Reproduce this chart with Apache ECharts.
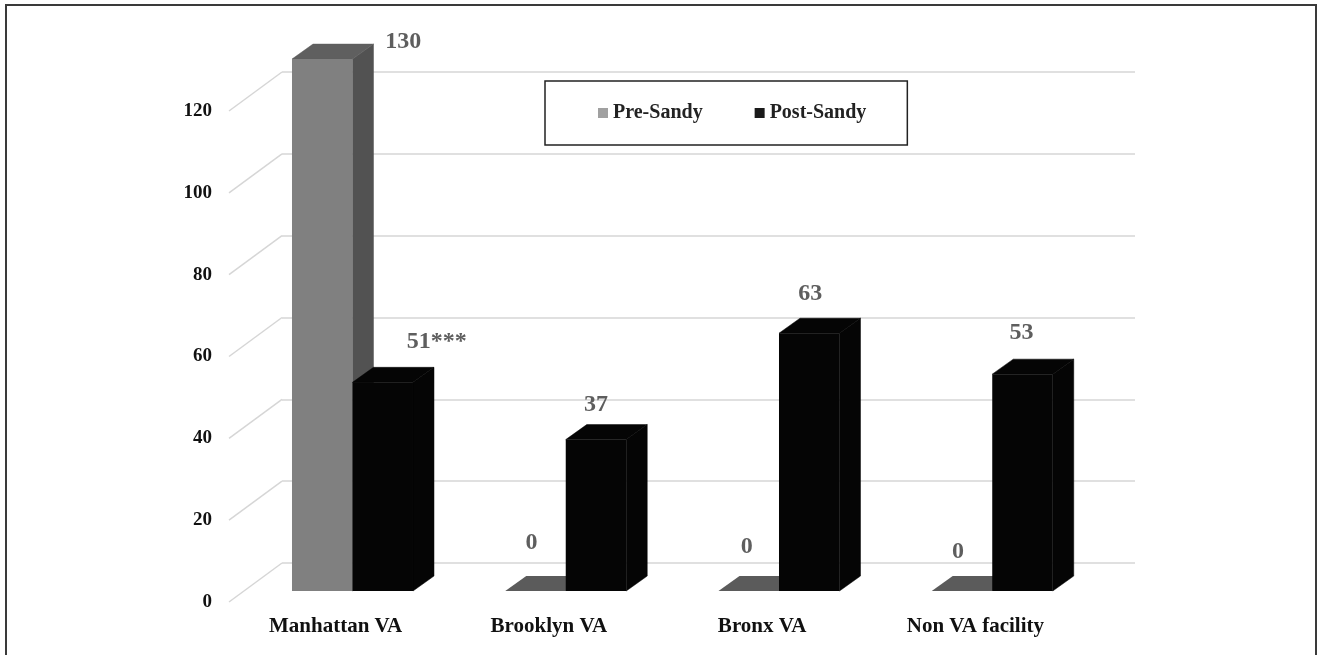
<!DOCTYPE html>
<html>
<head>
<meta charset="utf-8">
<script src="https://cdn.jsdelivr.net/npm/echarts@6/dist/echarts.min.js"></script>
<style>
  html, body { margin: 0; padding: 0; background: #fff; }
  #chart { width: 1320px; height: 655px; }
</style>
</head>
<body>
<div id="chart"></div>
<script>
// ---- data ----
const categories = ['Manhattan VA', 'Brooklyn VA', 'Bronx VA', 'Non VA facility'];
const preSandy = [130, 0, 0, 0];
const postSandy = [51, 37, 63, 53];
const significance = ['***', '', '', ''];
const yTicks = [0, 20, 40, 60, 80, 100, 120];
const seriesNames = ['Pre-Sandy', 'Post-Sandy'];

// ---- style ----
const FONT = '"Liberation Serif", "Times New Roman", serif';
const FRONT_DX = 0, FRONT_DY = -11;     // bar front plane relative to floor front edge
const DEPTH_DX = 21, DEPTH_DY = -15;    // bar depth
const WALL_DX = 53, WALL_DY = -39;      // floor depth (front edge to back wall)
const BAR_W = 0.2837;                   // bar width, fraction of band
const BAR_START = { pre: 0.2954, post: 0.5791 };
const COLORS = {
  pre: { front: '#808080', top: '#5f5f5f', side: '#525252', flat: '#5b5b5b' },
  post: { front: '#050505', top: '#050505', side: '#050505', flat: '#050505' }
};
const LABEL_OFFSETS = {
  pre: [[81, -17], [-4, -48], [-2, -44], [-4, -39]],
  post: [[54, -41], [0, -35], [1, -39], [-1, -41]]
};

function barRenderer(kind) {
  return function (params, api) {
    const i = api.value(0), v = api.value(1);
    const base = api.coord([i, 0]);
    const top = api.coord([i, v]);
    const band = api.size([1, 0])[0];
    const catLeft = base[0] - band / 2;
    const x0 = catLeft + band * BAR_START[kind] + FRONT_DX;
    const w = band * BAR_W;
    const yb = base[1] + FRONT_DY;
    const yt = top[1] + FRONT_DY;
    const c = COLORS[kind];
    const children = [];
    if (v > 0) {
      children.push({ type: 'polygon', shape: { points: [[x0 + w, yt], [x0 + w + DEPTH_DX, yt + DEPTH_DY], [x0 + w + DEPTH_DX, yb + DEPTH_DY], [x0 + w, yb]] }, style: { fill: c.side, stroke: c.side, lineWidth: 0.5 } });
      children.push({ type: 'polygon', shape: { points: [[x0, yt], [x0 + w, yt], [x0 + w + DEPTH_DX, yt + DEPTH_DY], [x0 + DEPTH_DX, yt + DEPTH_DY]] }, style: { fill: c.top, stroke: c.top, lineWidth: 0.5 } });
      children.push({ type: 'rect', shape: { x: x0, y: yt, width: w, height: yb - yt }, style: { fill: c.front } });
    } else {
      children.push({ type: 'polygon', shape: { points: [[x0, yb], [x0 + w, yb], [x0 + w + DEPTH_DX, yb + DEPTH_DY], [x0 + DEPTH_DX, yb + DEPTH_DY]] }, style: { fill: c.flat } });
    }
    const off = LABEL_OFFSETS[kind][i];
    const txt = String(v) + (kind === 'post' ? significance[i] : '');
    children.push({
      type: 'text',
      style: {
        text: txt, x: x0 + w / 2 + off[0], y: yt + off[1],
        align: 'center', verticalAlign: 'middle',
        font: 'bold 24px ' + FONT, fill: '#5e5e5e'
      }
    });
    return { type: 'group', children: children };
  };
}

function wallRenderer(params, api) {
  const v = api.value(1);
  const p = api.coord([0, v]);
  const band = api.size([1, 0])[0];
  const left = p[0] - band / 2;
  return {
    type: 'line',
    shape: { x1: left, y1: p[1], x2: left + WALL_DX, y2: p[1] + WALL_DY },
    style: { stroke: '#d6d6d6', lineWidth: 1.5 }
  };
}

const chart = echarts.init(document.getElementById('chart'));
chart.setOption({
  animation: false,
  backgroundColor: '#fff',
  graphic: [{
    type: 'rect', z: 100,
    shape: { x: 6, y: 5, width: 1310, height: 720 },
    style: { fill: 'none', stroke: '#3a3a3a', lineWidth: 2 }
  }],
  legend: {
    data: [
      { name: seriesNames[0], itemStyle: { color: '#a0a0a0' } },
      { name: seriesNames[1], itemStyle: { color: '#1a1a1a' } }
    ],
    left: 545, top: 81,
    padding: [22, 41, 22, 53],
    borderColor: '#222', borderWidth: 1.5,
    itemWidth: 10, itemHeight: 10, itemGap: 52,
    icon: 'rect', selectedMode: false,
    textStyle: { fontFamily: FONT, fontWeight: 'bold', fontSize: 20, color: '#222', lineHeight: 20 }
  },
  grid: [
    { left: 229, top: 111, width: 853, height: 491 },  // floor front plane
    { left: 282, top: 72, width: 853, height: 491 }    // back wall
  ],
  xAxis: [
    {
      gridIndex: 0, type: 'category', data: categories,
      axisLine: { show: false }, axisTick: { show: false },
      axisLabel: { margin: 14, fontFamily: FONT, fontWeight: 'bold', fontSize: 21, color: '#111' }
    },
    { gridIndex: 1, type: 'category', data: categories, show: false }
  ],
  yAxis: [
    {
      gridIndex: 0, type: 'value', min: 0, max: 120, interval: 20,
      axisLine: { show: false }, axisTick: { show: false }, splitLine: { show: false },
      axisLabel: { margin: 17, fontFamily: FONT, fontWeight: 'bold', fontSize: 19, color: '#111' }
    },
    {
      gridIndex: 1, type: 'value', min: 0, max: 120, interval: 20,
      axisLine: { show: false }, axisTick: { show: false }, axisLabel: { show: false },
      splitLine: { show: true, lineStyle: { color: '#d6d6d6', width: 1.5 } }
    }
  ],
  series: [
    {
      type: 'custom', name: 'wall', xAxisIndex: 0, yAxisIndex: 0,
      renderItem: wallRenderer, data: yTicks.map(t => [0, t]), silent: true, z: 1
    },
    {
      type: 'custom', name: seriesNames[0], xAxisIndex: 0, yAxisIndex: 0,
      itemStyle: { color: '#a0a0a0' }, clip: false, z: 2,
      renderItem: barRenderer('pre'), data: preSandy.map((v, i) => [i, v])
    },
    {
      type: 'custom', name: seriesNames[1], xAxisIndex: 0, yAxisIndex: 0,
      itemStyle: { color: '#1a1a1a' }, clip: false, z: 3,
      renderItem: barRenderer('post'), data: postSandy.map((v, i) => [i, v])
    }
  ]
});
</script>
</body>
</html>
